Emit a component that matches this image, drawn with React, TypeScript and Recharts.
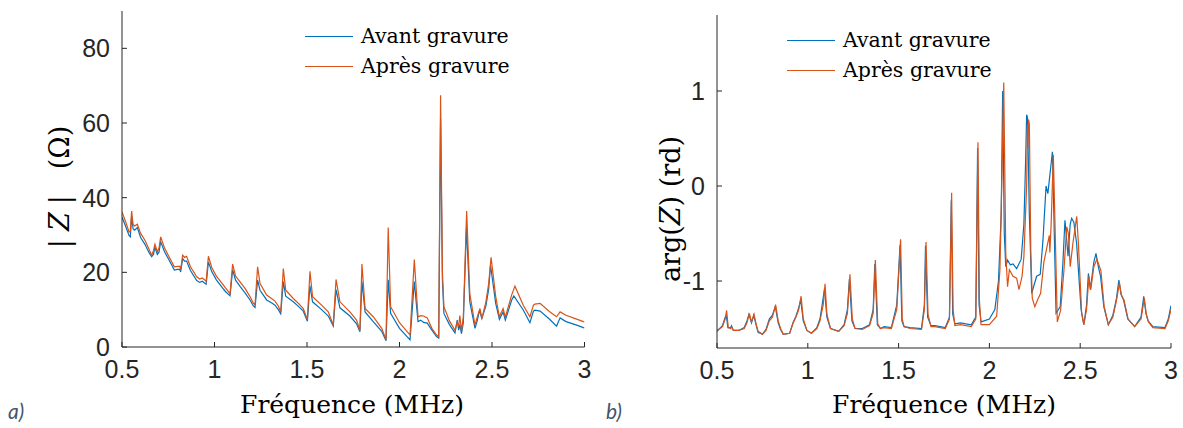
import { LineChart, Line, XAxis, YAxis, Legend } from "recharts";

const BLUE = "#0072BD";
const ORANGE = "#D95319";
const AXIS = "#262626";
const SANS = "'Liberation Sans', Arial, sans-serif";
const SERIF = "'DejaVu Serif', 'Liberation Serif', serif";

const FREQ_TICKS = [0.5, 1, 1.5, 2, 2.5, 3];
const MOD_TICKS = [0, 20, 40, 60, 80];
const ARG_TICKS = [-1, 0, 1];
const SERIES = ["Avant gravure", "Après gravure"];

// |Z| (ohm) avant gravure
const modAvantFreq = [
  0.5, 0.52, 0.538, 0.545, 0.552, 0.56, 0.568, 0.583, 0.6, 0.624, 0.645, 0.66, 0.67, 0.678, 0.691, 0.7,
  0.709, 0.73, 0.75, 0.783, 0.8, 0.812, 0.817, 0.828, 0.838, 0.849, 0.87, 0.904, 0.92, 0.934, 0.949, 0.955,
  0.967, 0.985, 1.01, 1.039, 1.06, 1.084, 1.098, 1.114, 1.14, 1.165, 1.192, 1.21, 1.219, 1.233, 1.246, 1.282,
  1.31, 1.327, 1.345, 1.358, 1.372, 1.385, 1.426, 1.455, 1.48, 1.502, 1.516, 1.53, 1.579, 1.615, 1.642, 1.657,
  1.678, 1.732, 1.768, 1.786, 1.797, 1.814, 1.858, 1.904, 1.927, 1.939, 1.952, 2.0, 2.057, 2.08, 2.1, 2.115,
  2.13, 2.15, 2.175, 2.2, 2.212, 2.222, 2.232, 2.24, 2.27, 2.3, 2.312, 2.32, 2.326, 2.335, 2.345, 2.362,
  2.38, 2.408, 2.42, 2.433, 2.445, 2.467, 2.482, 2.492, 2.52, 2.54, 2.56, 2.572, 2.606, 2.618, 2.669, 2.705,
  2.724, 2.732, 2.76, 2.81, 2.849, 2.868, 2.9, 2.95, 2.994, 3.0,
];
const modAvant = [
  34.8, 32.3, 29.9, 29.5, 35.0, 31.6, 31.3, 32.0, 29.4, 27.5, 25.4, 24.2, 24.8, 26.7, 24.8, 25.4,
  28.2, 25.5, 23.7, 20.6, 20.8, 20.8, 20.1, 23.7, 23.0, 23.0, 20.5, 17.8, 17.3, 17.6, 17.0, 16.8,
  22.8, 20.2, 18.0, 16.1, 14.8, 13.7, 20.7, 17.9, 16.1, 14.5, 12.6, 11.0, 10.6, 17.9, 15.2, 12.6,
  11.8, 11.2, 10.0, 8.9, 17.5, 13.6, 12.1, 10.8, 9.6, 6.9, 16.4, 12.1, 10.0, 8.3, 5.6, 15.4,
  10.5, 8.3, 6.2, 4.1, 17.5, 9.4, 6.8, 4.2, 1.7, 18.0, 9.0, 5.0, 1.9, 17.5, 6.8, 7.2,
  6.6, 6.4, 4.5, 2.8, 2.4, 61.2, 18.0, 9.0, 6.0, 3.8, 7.2, 4.5, 6.0, 3.6, 6.5, 32.2,
  12.1, 5.0, 7.0, 9.9, 7.6, 11.0, 15.5, 21.9, 11.7, 7.4, 9.4, 7.2, 12.5, 13.7, 9.9, 6.5,
  9.6, 9.9, 9.6, 7.5, 5.6, 7.8, 6.8, 6.0, 5.2, 5.1,
];

// |Z| (ohm) après gravure
const modApresFreq = [
  0.5, 0.52, 0.538, 0.545, 0.552, 0.56, 0.568, 0.583, 0.6, 0.624, 0.645, 0.66, 0.67, 0.678, 0.691, 0.7,
  0.709, 0.73, 0.75, 0.783, 0.8, 0.812, 0.817, 0.828, 0.838, 0.849, 0.87, 0.904, 0.92, 0.934, 0.949, 0.955,
  0.967, 0.985, 1.01, 1.039, 1.06, 1.084, 1.098, 1.114, 1.14, 1.165, 1.192, 1.21, 1.219, 1.233, 1.246, 1.282,
  1.31, 1.327, 1.345, 1.358, 1.372, 1.385, 1.426, 1.455, 1.48, 1.502, 1.516, 1.53, 1.579, 1.615, 1.642, 1.657,
  1.678, 1.732, 1.768, 1.786, 1.797, 1.814, 1.858, 1.904, 1.927, 1.939, 1.952, 2.0, 2.057, 2.08, 2.1, 2.115,
  2.13, 2.15, 2.175, 2.2, 2.212, 2.222, 2.232, 2.24, 2.27, 2.3, 2.312, 2.32, 2.326, 2.335, 2.345, 2.363,
  2.38, 2.408, 2.42, 2.435, 2.445, 2.467, 2.482, 2.495, 2.52, 2.54, 2.56, 2.572, 2.606, 2.624, 2.669, 2.705,
  2.724, 2.732, 2.76, 2.81, 2.849, 2.868, 2.9, 2.95, 2.994, 3.0,
];
const modApres = [
  36.2, 33.5, 30.8, 31.0, 36.4, 32.8, 32.4, 32.9, 30.5, 28.6, 26.3, 24.6, 25.8, 27.5, 25.5, 26.5,
  29.5, 26.5, 24.6, 21.5, 21.6, 21.6, 20.8, 24.6, 24.0, 24.3, 21.5, 18.8, 18.2, 18.5, 17.9, 17.6,
  24.3, 21.3, 19.0, 17.2, 15.8, 14.3, 22.2, 19.0, 17.3, 15.7, 13.5, 11.7, 11.3, 21.5, 17.0, 13.9,
  12.9, 12.3, 11.0, 9.4, 21.0, 15.2, 13.0, 11.6, 10.3, 7.4, 20.3, 13.5, 11.2, 9.4, 5.9, 18.1,
  12.1, 9.4, 7.2, 4.4, 22.2, 10.3, 8.1, 5.0, 1.9, 32.0, 10.8, 6.5, 3.2, 23.4, 8.1, 8.4,
  8.3, 7.8, 5.0, 3.2, 2.8, 67.4, 20.0, 10.8, 7.0, 4.5, 6.7, 5.5, 8.4, 4.4, 8.0, 36.4,
  14.3, 5.9, 8.0, 10.3, 7.6, 12.1, 17.0, 24.0, 13.5, 8.1, 10.3, 8.0, 13.9, 16.3, 11.2, 8.1,
  11.2, 11.5, 11.7, 9.5, 8.1, 9.4, 8.5, 7.6, 6.8, 6.7,
];

// arg(Z) (rd) avant gravure
const argAvantFreq = [
  0.5, 0.53, 0.545, 0.551, 0.56, 0.575, 0.58, 0.59, 0.62, 0.65, 0.665, 0.676, 0.69, 0.702, 0.715, 0.726,
  0.75, 0.77, 0.788, 0.805, 0.821, 0.837, 0.85, 0.865, 0.9, 0.92, 0.935, 0.95, 0.961, 0.975, 0.995, 1.02,
  1.05, 1.067, 1.083, 1.092, 1.105, 1.125, 1.17, 1.2, 1.218, 1.229, 1.243, 1.26, 1.3, 1.34, 1.36, 1.369,
  1.383, 1.4, 1.42, 1.46, 1.49, 1.508, 1.518, 1.53, 1.563, 1.626, 1.642, 1.648, 1.66, 1.678, 1.7, 1.757,
  1.78, 1.79, 1.798, 1.81, 1.84, 1.9, 1.925, 1.935, 1.943, 1.954, 2.0, 2.03, 2.05, 2.065, 2.073, 2.082,
  2.09, 2.1, 2.115, 2.13, 2.15, 2.175, 2.19, 2.2, 2.205, 2.21, 2.22, 2.233, 2.245, 2.26, 2.28, 2.295,
  2.312, 2.322, 2.347, 2.355, 2.367, 2.39, 2.405, 2.416, 2.425, 2.433, 2.445, 2.453, 2.465, 2.48, 2.505, 2.52,
  2.535, 2.545, 2.556, 2.575, 2.587, 2.6, 2.612, 2.63, 2.655, 2.68, 2.7, 2.713, 2.725, 2.739, 2.762, 2.8,
  2.835, 2.85, 2.862, 2.874, 2.9, 2.967, 2.985, 3.0,
];
const argAvant = [
  -1.53, -1.47, -1.38, -1.36, -1.49, -1.49, -1.47, -1.52, -1.52, -1.49, -1.42, -1.35, -1.44, -1.36, -1.46, -1.54,
  -1.56, -1.51, -1.4, -1.36, -1.27, -1.44, -1.51, -1.56, -1.55, -1.43, -1.37, -1.28, -1.2, -1.42, -1.52, -1.55,
  -1.49, -1.4, -1.2, -1.08, -1.38, -1.5, -1.53, -1.46, -1.3, -0.98, -1.42, -1.5, -1.5, -1.46, -1.3, -0.82,
  -1.46, -1.5, -1.48, -1.49, -1.25, -0.62, -1.42, -1.48, -1.49, -1.5, -1.25, -0.63, -1.38, -1.47, -1.47, -1.49,
  -1.38, -0.15, -1.35, -1.45, -1.44, -1.46, -1.38, 0.4, -1.25, -1.43, -1.4, -1.3, -1.0, -0.3, 1.0, -0.5,
  -0.85, -0.78, -0.83, -0.82, -0.87, -0.77, -0.4, 0.3, 0.75, 0.72, -0.3, -1.13, -1.05, -0.95, -0.93, -0.57,
  0.0, -0.08, 0.36, -0.3, -1.34, -1.27, -0.8, -0.36, -0.55, -0.74, -0.4, -0.34, -0.38, -0.6, -1.3, -1.46,
  -1.25, -0.92, -1.09, -0.8, -0.71, -0.85, -0.95, -1.27, -1.46, -1.36, -1.18, -0.99, -1.14, -1.2, -1.4, -1.48,
  -1.38, -1.16, -1.34, -1.42, -1.48, -1.49, -1.4, -1.26,
];

// arg(Z) (rd) après gravure
const argApresFreq = [
  0.5, 0.53, 0.545, 0.553, 0.562, 0.575, 0.58, 0.59, 0.62, 0.65, 0.665, 0.678, 0.69, 0.704, 0.715, 0.726,
  0.75, 0.77, 0.788, 0.805, 0.823, 0.837, 0.85, 0.865, 0.9, 0.92, 0.935, 0.95, 0.963, 0.975, 0.995, 1.02,
  1.05, 1.067, 1.085, 1.095, 1.105, 1.125, 1.17, 1.2, 1.218, 1.232, 1.245, 1.26, 1.3, 1.34, 1.36, 1.372,
  1.385, 1.4, 1.42, 1.46, 1.49, 1.511, 1.52, 1.53, 1.563, 1.626, 1.642, 1.651, 1.662, 1.678, 1.7, 1.757,
  1.78, 1.792, 1.8, 1.81, 1.84, 1.9, 1.925, 1.937, 1.945, 1.954, 2.0, 2.04, 2.058, 2.07, 2.079, 2.09,
  2.1, 2.11, 2.13, 2.15, 2.163, 2.18, 2.19, 2.205, 2.21, 2.212, 2.216, 2.22, 2.228, 2.236, 2.25, 2.265,
  2.282, 2.3, 2.33, 2.333, 2.34, 2.352, 2.36, 2.374, 2.392, 2.41, 2.426, 2.435, 2.445, 2.46, 2.481, 2.49,
  2.508, 2.52, 2.535, 2.548, 2.558, 2.575, 2.592, 2.614, 2.632, 2.655, 2.68, 2.7, 2.716, 2.727, 2.741, 2.764,
  2.8, 2.835, 2.853, 2.864, 2.876, 2.9, 2.967, 2.985, 3.0,
];
const argApres = [
  -1.52, -1.48, -1.4, -1.31, -1.49, -1.5, -1.48, -1.52, -1.52, -1.5, -1.44, -1.34, -1.43, -1.35, -1.45, -1.53,
  -1.56, -1.52, -1.42, -1.38, -1.25, -1.42, -1.5, -1.56, -1.55, -1.44, -1.38, -1.3, -1.16, -1.4, -1.52, -1.55,
  -1.5, -1.42, -1.25, -1.03, -1.35, -1.5, -1.53, -1.47, -1.34, -0.93, -1.4, -1.5, -1.51, -1.47, -1.34, -0.78,
  -1.45, -1.5, -1.49, -1.5, -1.3, -0.56, -1.4, -1.48, -1.5, -1.51, -1.3, -0.59, -1.35, -1.48, -1.48, -1.5,
  -1.4, -0.07, -1.3, -1.47, -1.46, -1.48, -1.4, 0.46, -1.2, -1.46, -1.46, -1.37, -0.88, 0.2, 1.09, -0.7,
  -1.06, -0.88, -0.95, -0.97, -1.09, -0.95, -0.74, 0.0, 0.65, 0.4, 0.7, 0.65, -0.7, -1.18, -1.27, -1.2,
  -1.13, -0.8, -0.52, -0.7, -0.4, 0.33, -0.3, -1.43, -1.31, -0.9, -0.43, -0.5, -0.85, -0.6, -0.32, -0.6,
  -1.34, -1.46, -1.3, -0.95, -1.09, -0.85, -0.77, -0.89, -1.27, -1.46, -1.38, -1.2, -1.02, -1.15, -1.2, -1.4,
  -1.48, -1.4, -1.18, -1.35, -1.43, -1.49, -1.5, -1.42, -1.3,
];

const toPoints = (freq: number[], vals: number[]) =>
  freq.map((f, i) => ({ f, v: vals[i] }));

const TICK_FONT = { fontFamily: SANS, fontSize: 25, fill: AXIS };

function LegendBox() {
  const colors = [BLUE, ORANGE];
  return (
    <div style={{ fontFamily: SERIF, fontSize: 20.5, color: "#000" }}>
      {SERIES.map((name, i) => (
        <div key={name} style={{ display: "flex", alignItems: "center", height: 30, whiteSpace: "nowrap" }}>
          <span
            style={{ display: "inline-block", width: 48, borderTop: `1.3px solid ${colors[i]}`, marginRight: 8 }}
          />
          {name}
        </div>
      ))}
    </div>
  );
}

function Panel({
  width,
  margin,
  yDomain,
  yTicks,
  blue,
  orange,
  legendPos,
  yLabel,
  xLabelX,
}: {
  width: number;
  margin: { top: number; right: number; left: number; bottom: number };
  yDomain: [number, number];
  yTicks: number[];
  blue: { f: number; v: number }[];
  orange: { f: number; v: number }[];
  legendPos: { left: number; top: number };
  yLabel: React.ReactNode;
  xLabelX: number;
}) {
  return (
    <LineChart width={width} height={428} margin={margin}>
      <XAxis
        xAxisId="b"
        dataKey="f"
        type="number"
        domain={[0.5, 3]}
        ticks={FREQ_TICKS}
        allowDataOverflow
        height={40}
        stroke={AXIS}
        tickSize={-5}
        tickMargin={18}
        tick={TICK_FONT}
        label={{
          content: () => (
            <text x={xLabelX} y={413} textAnchor="middle" fontFamily={SERIF} fontSize={25} fill="#000">
              Fréquence (MHz)
            </text>
          ),
        }}
      />
      <XAxis
        xAxisId="t"
        orientation="top"
        dataKey="f"
        type="number"
        domain={[0.5, 3]}
        ticks={FREQ_TICKS}
        height={0}
        stroke={AXIS}
        tickSize={-5}
        tick={false}
      />
      <YAxis
        yAxisId="l"
        type="number"
        domain={yDomain}
        ticks={yTicks}
        allowDataOverflow
        width={60}
        stroke={AXIS}
        tickSize={-5}
        tickMargin={17}
        tick={TICK_FONT}
        label={{ content: () => yLabel }}
      />
      <YAxis
        yAxisId="r"
        orientation="right"
        type="number"
        domain={yDomain}
        ticks={yTicks}
        width={0}
        stroke={AXIS}
        tickSize={-5}
        tick={false}
      />
      <Legend
        layout="vertical"
        align="center"
        verticalAlign="middle"
        content={() => <LegendBox />}
        wrapperStyle={{ left: legendPos.left, top: legendPos.top, width: 230, height: 60 }}
      />
      <Line
        xAxisId="b"
        yAxisId="l"
        data={blue}
        dataKey="v"
        name={SERIES[0]}
        stroke={BLUE}
        strokeWidth={1.2}
        dot={false}
        type="linear"
        isAnimationActive={false}
      />
      <Line
        xAxisId="b"
        yAxisId="l"
        data={orange}
        dataKey="v"
        name={SERIES[1]}
        stroke={ORANGE}
        strokeWidth={1.2}
        dot={false}
        type="linear"
        isAnimationActive={false}
      />
    </LineChart>
  );
}

const tagStyle: React.CSSProperties = {
  position: "absolute",
  top: 398,
  fontFamily: "Lato, 'Open Sans', sans-serif",
  fontStyle: "italic",
  fontSize: 21,
  color: "#44546A",
};

export default function App() {
  return (
    <div style={{ position: "absolute", left: 0, top: 0, width: 1183, height: 428, background: "#fff" }}>
      <div style={{ position: "absolute", left: 0, top: 0 }}>
        <Panel
          width={600}
          margin={{ top: 11, right: 15.5, left: 62, bottom: 41 }}
          yDomain={[0, 90]}
          yTicks={MOD_TICKS}
          blue={toPoints(modAvantFreq, modAvant)}
          orange={toPoints(modApresFreq, modApres)}
          legendPos={{ left: 305, top: 21 }}
          xLabelX={352}
          yLabel={
            <text
              x={69}
              y={187}
              transform="rotate(-90, 69, 187)"
              textAnchor="middle"
              fontFamily={SERIF}
              fontSize={27}
              fill="#000"
            >
              |<tspan dx={8} fontStyle="italic">Z</tspan>
              <tspan dx={8}>|</tspan>
              <tspan dx={26}>(Ω)</tspan>
            </text>
          }
        />
      </div>
      <div style={{ position: "absolute", left: 600, top: 0 }}>
        <Panel
          width={583}
          margin={{ top: 15, right: 12, left: 57, bottom: 40 }}
          yDomain={[-1.705, 1.8]}
          yTicks={ARG_TICKS}
          blue={toPoints(argAvantFreq, argAvant)}
          orange={toPoints(argApresFreq, argApres)}
          legendPos={{ left: 187, top: 25 }}
          xLabelX={344}
          yLabel={
            <text
              x={80}
              y={209}
              transform="rotate(-90, 80, 209)"
              textAnchor="middle"
              fontFamily={SERIF}
              fontSize={27}
              fill="#000"
            >
              arg(<tspan fontStyle="italic">Z</tspan>) (rd)
            </text>
          }
        />
      </div>
      <div style={{ ...tagStyle, left: 8 }}>a)</div>
      <div style={{ ...tagStyle, left: 606 }}>b)</div>
    </div>
  );
}
